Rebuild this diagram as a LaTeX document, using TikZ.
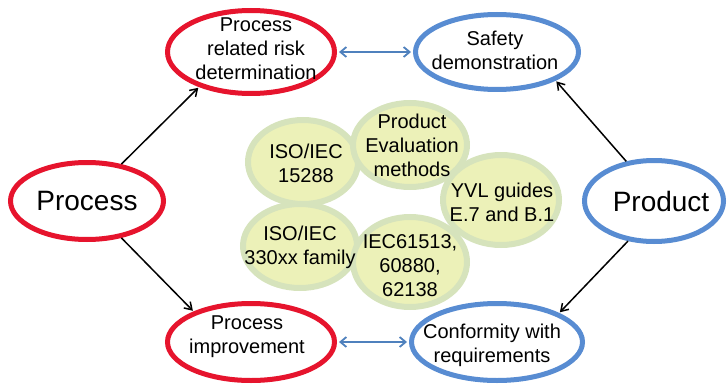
\documentclass[tikz,border=0pt]{standalone}
\usepackage{fontspec}
\setmainfont{Liberation Sans}
\usetikzlibrary{shapes.geometric,arrows.meta}
\definecolor{procred}{RGB}{230,20,45}
\definecolor{prodblue}{RGB}{88,140,210}
\definecolor{linkblue}{RGB}{79,129,189}
\definecolor{stdfill}{RGB}{236,241,184}
\definecolor{stdedge}{RGB}{214,227,188}
\tikzset{
  oval/.style={ellipse,inner sep=0pt,line width=5pt,fill=white},
  procoval/.style={oval,draw=procred},
  prodoval/.style={oval,draw=prodblue},
  stdoval/.style={ellipse,inner sep=0pt,line width=6pt,draw=stdedge,fill=stdfill},
  lbl/.style={align=center,inner sep=0pt,font=\fontsize{20}{24}\selectfont},
  biglbl/.style={align=center,inner sep=0pt,font=\fontsize{28}{32}\selectfont},
  flow/.style={-{Straight Barb[length=7pt,width=9pt]},line width=1.5pt,black,shorten >=1pt},
  link/.style={{Straight Barb[length=6pt,width=10pt]}-{Straight Barb[length=6pt,width=10pt]},line width=1.8pt,linkblue,shorten <=2pt,shorten >=2pt},
}
\begin{document}
\begin{tikzpicture}[x=1pt,y=-1pt]
\useasboundingbox (0,0) rectangle (727,385);
% outer ovals
\node[procoval,minimum width=153pt,minimum height=77pt] (proc) at (87,201) {};
\node[prodoval,minimum width=139pt,minimum height=81pt] (prod) at (654,201) {};
\node[procoval,minimum width=167pt,minimum height=83pt] (risk) at (251,52) {};
\node[prodoval,minimum width=163pt,minimum height=75pt] (safe) at (497,52) {};
\node[procoval,minimum width=167pt,minimum height=77pt] (impr) at (251,342) {};
\node[prodoval,minimum width=171pt,minimum height=77pt] (conf) at (497,342) {};
% standards cluster
\node[stdoval,minimum width=110pt,minimum height=84pt] (g1) at (303,162) {};
\node[stdoval,minimum width=114pt,minimum height=84pt] (g2) at (410,145) {};
\node[stdoval,minimum width=116pt,minimum height=90pt] (g3) at (501,200) {};
\node[stdoval,minimum width=114pt,minimum height=84pt] (g4) at (300,246) {};
\node[stdoval,minimum width=114pt,minimum height=90pt] (g5) at (410,262) {};
% labels
\node[biglbl] (tproc) at (87,201) {Process};
\node[biglbl] (tprod) at (661,201) {Product};
\node[lbl] (trisk) at (256,49) {Process\\related risk\\determination};
\node[lbl] (tsafe) at (495,50) {Safety\\demonstration};
\node[lbl] (timpr) at (247,337) {Process\\improvement};
\node[lbl] (tconf) at (492,345) {Conformity with\\requirements};
\node[lbl] (tg1) at (306,163) {ISO/IEC\\15288};
\node[lbl] (tg2) at (412,145) {Product\\Evaluation\\methods};
\node[lbl] (tg3) at (502,202) {YVL guides\\E.7 and B.1};
\node[lbl] (tg4) at (300,247) {ISO/IEC\\330xx family};
\node[lbl] (tg5) at (410,266) {IEC61513,\\60880,\\62138};
% connectors
\draw[flow] (proc.47) -- (risk.214);
\draw[flow] (proc.313) -- (impr.152);
\draw[flow] (prod.125) -- (safe.334);
\draw[flow] (prod.237) -- (conf.25);
\draw[link] (risk.east) -- (safe.west);
\draw[link] (impr.east) -- (conf.west);
\end{tikzpicture}
\end{document}
